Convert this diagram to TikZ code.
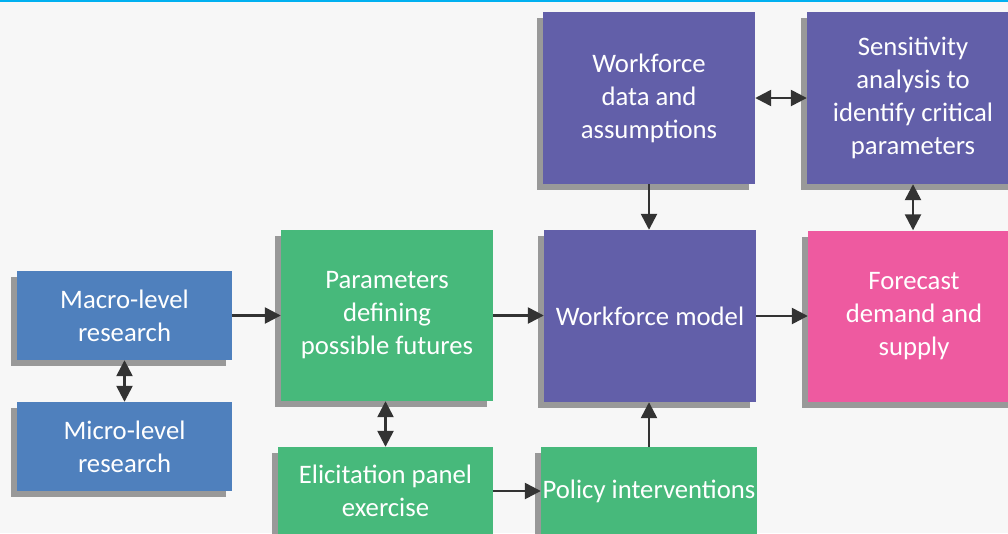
\documentclass[tikz,border=0pt]{standalone}
\usepackage{fontspec}
\setmainfont{Carlito}
\usepackage{xcolor}
\usetikzlibrary{positioning, arrows.meta, shadows}

\definecolor{bgray}{HTML}{F7F7F7}
\definecolor{topline}{HTML}{00B0F0}
\definecolor{boxblue}{HTML}{4F80BD}
\definecolor{boxgreen}{HTML}{47B97B}
\definecolor{boxpurple}{HTML}{625FA9}
\definecolor{boxpink}{HTML}{EE5AA0}
\definecolor{shadowgray}{HTML}{999999}
\definecolor{arrowgray}{HTML}{333333}

\tikzset{
    stage/.style={rectangle, inner sep=0pt, text=white, align=center,
        font=\fontsize{26.7}{33}\selectfont,
        general shadow={shadow xshift=-6pt, shadow yshift=-6pt, fill=shadowgray}},
    flow/.style={draw=arrowgray, line width=2.5pt, -{Triangle[length=16pt,width=16pt]}},
    twoway/.style={flow, {Triangle[length=16pt,width=16pt]}-{Triangle[length=16pt,width=16pt]}}
}

\begin{document}
\begin{tikzpicture}[x=1pt, y=-1pt]
    % Canvas
    \useasboundingbox (0,0) rectangle (1008,533);
    \clip (0,0) rectangle (1008,533);
    \fill[bgray] (0,0) rectangle (1008,533);
    \fill[topline] (0,0) rectangle (1008,2);

    % Research inputs
    \node[stage, fill=boxblue, minimum width=215pt, minimum height=89pt] (macro) at (124.5,315.5) {Macro-level\\research};
    \node[stage, fill=boxblue, minimum width=215pt, minimum height=89pt] (micro) at (124.5,446.5) {Micro-level\\research};

    % Scenario parameters
    \node[stage, fill=boxgreen, minimum width=212pt, minimum height=171pt] (params) at (387,315.5) {Parameters\\defining\\possible futures};
    \node[stage, fill=boxgreen, minimum width=215pt, minimum height=88pt] (elicit) at (385.5,491) {Elicitation panel\\exercise};

    % Model column
    \node[stage, fill=boxpurple, minimum width=212pt, minimum height=172pt] (data) at (649,98) {Workforce\\data and\\assumptions};
    \node[stage, fill=boxpurple, minimum width=212pt, minimum height=172pt] (model) at (650,316) {Workforce model};
    \node[stage, fill=boxgreen, minimum width=216pt, minimum height=88pt] (policy) at (649,491) {Policy interventions};

    % Outputs
    \node[stage, fill=boxpurple, minimum width=212pt, minimum height=172pt] (sens) at (913,98) {Sensitivity\\analysis to\\identify critical\\parameters};
    \node[stage, fill=boxpink, minimum width=212pt, minimum height=171pt] (forecast) at (914,316) {Forecast\\demand and\\supply};

    % Connectors
    \draw[twoway] (macro.south) -- (micro.north);
    \draw[flow] (macro.east) -- (macro.east -| params.west);
    \draw[twoway] (params.south -| elicit.north) -- (elicit.north);
    \draw[flow] (elicit.east) -- (policy.west);
    \draw[flow] (params.east) -- (params.east -| model.west);
    \draw[flow] (data.south) -- (data.south |- model.north);
    \draw[flow] (policy.north) -- (policy.north |- model.south);
    \draw[flow] (model.east) -- (model.east -| forecast.west);
    \draw[twoway] (data.east) -- (sens.west);
    \draw[twoway] (sens.south) -- (sens.south |- forecast.north);
\end{tikzpicture}
\end{document}
